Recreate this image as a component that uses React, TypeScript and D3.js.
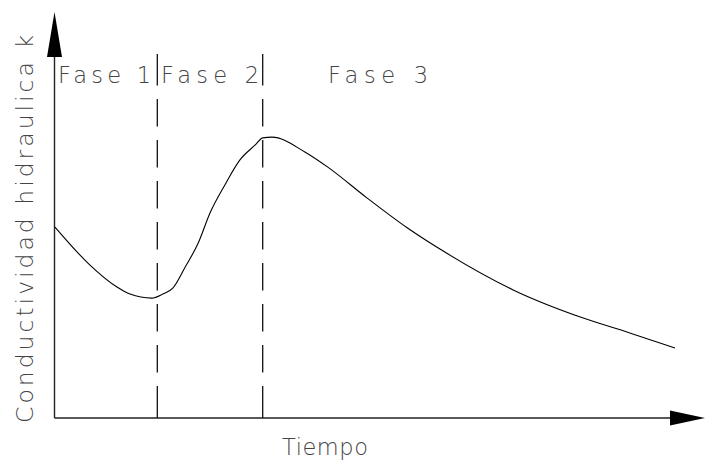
import React from "react";
import * as d3 from "d3";

const tiempo = [0, 5.6, 10.0, 12.1, 15.6, 17.4, 19.0, 21.0, 23.1, 25.0, 27.4, 29.8, 32.3, 33.5, 35.0, 40.3, 44.0, 50.3, 56.8, 63.4, 73.9, 85.2, 92.7, 100];
const conductividad = [51.6, 41.4, 35.4, 33.5, 32.4, 33.5, 35.1, 40.8, 47.3, 55.4, 63.0, 69.7, 73.8, 75.7, 75.9, 71.9, 67.8, 59.5, 51.4, 44.3, 34.6, 27.0, 23.0, 18.9];
const faseLimites = [16.5, 33.5];
const faseEtiquetas = ["Fase 1", "Fase 2", "Fase 3"];
const xTitulo = "Tiempo";
const yTitulo = "Conductividad hidraulica k";

const W = 705;
const H = 460;
const FONT = "'DejaVu Sans ExtraLight', 'DejaVu Sans', sans-serif";

export default function App() {
  const x = d3.scaleLinear().domain([0, 100]).range([55, 675]);
  const y = d3.scaleLinear().domain([0, 100]).range([418, 48]);
  const x0 = x(0) - 0.5;
  const y0 = y(0);

  const data = tiempo.map((t, i) => [t, conductividad[i]] as [number, number]);
  const line = d3
    .line<[number, number]>()
    .x((d) => x(d[0]))
    .y((d) => y(d[1]))
    .curve(d3.curveMonotoneX);

  const topY = 54;
  const dashes: number[] = [32];
  for (let i = 0; i < 7; i++) dashes.push(13.5, 27.5);
  dashes.push(13.5, 32);
  const dashArray = dashes.join(" ");

  const labelPos = [
    { x: 58, len: 93 },
    { x: 161, len: 98 },
    { x: 328, len: 100 },
  ];

  const textStyle = {
    fontFamily: FONT,
    fontWeight: 200,
    fill: "#444",
  } as const;

  return (
    <svg width={W} height={H} style={{ position: "absolute", left: 0, top: 0, background: "#fff" }}>
      <rect width={W} height={H} fill="#fff" />
      <line x1={x0} y1={y0} x2={x0} y2={57} stroke="#222" strokeWidth={1.4} />
      <path d={`M${x0},12 L${x0 - 7.5},57 L${x0 + 7.5},57 Z`} fill="#000" />
      <line x1={x0} y1={y0} x2={670} y2={y0} stroke="#222" strokeWidth={1.4} />
      <path d={`M705,${y0} L670,${y0 - 7.5} L670,${y0 + 7.5} Z`} fill="#000" />

      {faseLimites.map((t, i) => (
        <line
          key={i}
          x1={x(t)}
          y1={y0}
          x2={x(t)}
          y2={topY}
          stroke="#111"
          strokeWidth={1.3}
          strokeDasharray={dashArray}
        />
      ))}

      <path d={line(data) || ""} fill="none" stroke="#000" strokeWidth={1.1} />

      {faseEtiquetas.map((s, i) => (
        <text
          key={s}
          x={labelPos[i].x}
          y={83}
          {...textStyle}
          fontSize={22.5}
          textLength={labelPos[i].len}
          lengthAdjust="spacing"
        >
          {s}
        </text>
      ))}

      <text x={282} y={455} {...textStyle} fontSize={22.5} textLength={86} lengthAdjust="spacing">
        {xTitulo}
      </text>
      <text
        transform="translate(33,423) rotate(-90)"
        {...textStyle}
        fontSize={23.5}
        textLength={388}
        lengthAdjust="spacing"
      >
        {yTitulo}
      </text>
    </svg>
  );
}
